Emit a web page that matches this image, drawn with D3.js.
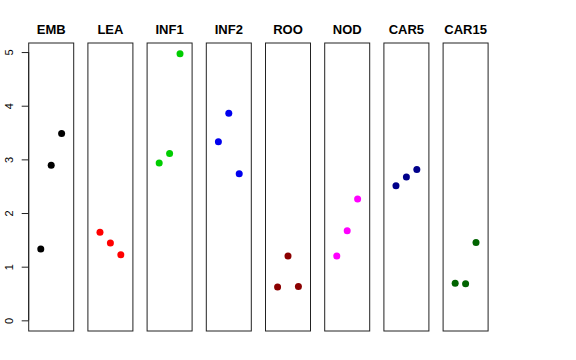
<!DOCTYPE html>
<html>
<head>
<meta charset="utf-8">
<script src="https://cdn.jsdelivr.net/npm/d3@7"></script>
<style>
  body { margin: 0; background: #fff; }
  svg { display: block; font-family: "Liberation Sans", Arial, sans-serif; }
</style>
</head>
<body>
<div id="chart"></div>
<script>
// one panel per tissue, three points each (x = 1,2,3)
var tissues = ["EMB", "LEA", "INF1", "INF2", "ROO", "NOD", "CAR5", "CAR15"];
var colors  = ["#000000", "#ff0000", "#00cd00", "#0000ee", "#8b0000", "#ff00ff", "#00008b", "#006400"];
var values  = [
  [1.33, 2.89, 3.48],
  [1.64, 1.44, 1.22],
  [2.93, 3.11, 4.97],
  [3.33, 3.86, 2.73],
  [0.62, 1.20, 0.63],
  [1.20, 1.67, 2.26],
  [2.51, 2.67, 2.81],
  [0.69, 0.68, 1.45]
];
var yTicks = [0, 1, 2, 3, 4, 5];

var width = 576, height = 360,
    panelTop = 43, panelBottom = 331,
    left0 = 28.7, panelW = 45, step = 59.2;

var svg = d3.select("#chart").append("svg")
  .attr("width", width)
  .attr("height", height);

// R style axis range: data range plus 4% each side
var ymax = d3.max(values, function(v){ return d3.max(v); });
var pad = ymax * 0.04;
var y = d3.scaleLinear()
  .domain([-pad, ymax + pad])
  .range([panelBottom, panelTop]);

var x = d3.scaleLinear()
  .domain([-0.16, 4.16])
  .range([0, panelW]);

var panels = svg.selectAll("g.panel")
  .data(tissues)
  .enter()
  .append("g")
  .attr("class", "panel")
  .attr("transform", function(d, i){
    return "translate(" + (left0 + i * step) + ",0)";
  });

panels.append("rect")
  .attr("x", 0)
  .attr("y", panelTop)
  .attr("width", panelW)
  .attr("height", panelBottom - panelTop)
  .style("fill", "none")
  .style("stroke", "#222")
  .style("stroke-width", 1);

panels.append("text")
  .attr("x", panelW / 2)
  .attr("y", 34)
  .attr("text-anchor", "middle")
  .style("font-size", "13px")
  .style("font-weight", "bold")
  .text(function(d){ return d; });

panels.each(function(d, i){
  d3.select(this).selectAll("circle")
    .data(values[i])
    .enter()
    .append("circle")
    .attr("cx", function(v, j){ return x(j + 1); })
    .attr("cy", function(v){ return y(v); })
    .attr("r", 3.5)
    .style("fill", colors[i]);
});

// left axis, labels rotated like R's default
var axis = svg.append("g")
  .attr("transform", "translate(" + left0 + ",0)")
  .call(d3.axisLeft(y).tickValues(yTicks).tickSize(7).tickPadding(0).tickFormat(d3.format("d")));

axis.select(".domain")
  .attr("d", "M0," + y(0) + "V" + y(5))
  .style("stroke", "#222");
axis.selectAll(".tick line").style("stroke", "#222");
axis.selectAll(".tick text")
  .attr("x", 0)
  .attr("y", 0)
  .attr("dy", 0)
  .attr("text-anchor", "middle")
  .attr("transform", "translate(-16,0) rotate(-90)")
  .style("font-size", "11px")
  .style("fill", "#000")
  .style("font-family", "Liberation Sans, Arial, sans-serif");
</script>
</body>
</html>
